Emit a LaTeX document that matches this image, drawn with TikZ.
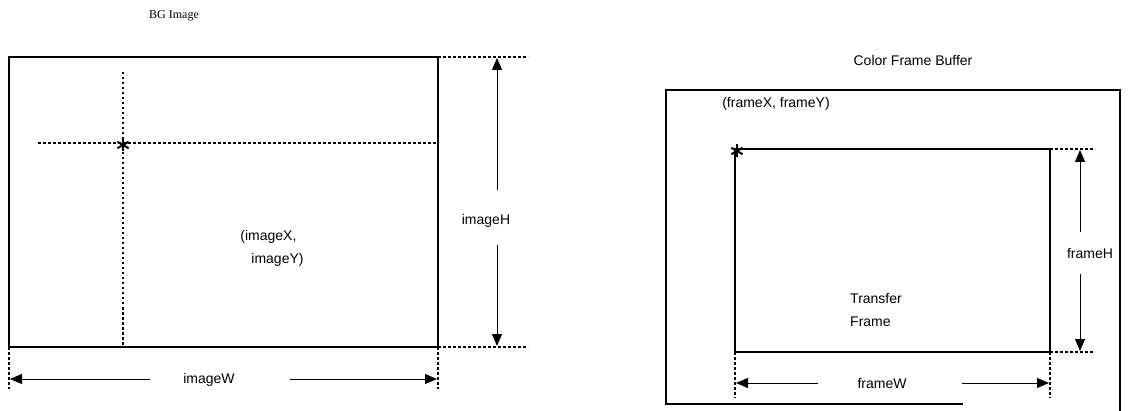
\documentclass[tikz,border=0pt]{standalone}
\usepackage{fontspec}
\setmainfont{Liberation Sans}
\newfontfamily\titlefont{Liberation Serif}
\usetikzlibrary{arrows.meta}
\tikzset{
  frameline/.style={line width=1.5pt},
  dotline/.style={line width=1.3pt, dash pattern=on 2.5pt off 2.5pt},
  dimarrow/.style={-{Triangle[length=12pt,width=10pt]}, line width=1pt},
  lbl/.style={font=\fontsize{14}{16}\selectfont, inner sep=0pt},
}
\newcommand{\starmark}[1]{%
  \foreach \a in {90,30,150}
    \draw[line width=2pt] (#1) ++(\a:6.5) -- ++(\a+180:13);
}

\begin{document}
\begin{tikzpicture}[x=1pt,y=-1pt]
\useasboundingbox (0,0) rectangle (1131,411);

%BG image side
\node[font=\titlefont\fontsize{12}{14}\selectfont] (bgtitle) at (174,16) {BG Image};
\coordinate (imgNW) at (9,57);
\coordinate (imgSE) at (438,347);
\coordinate (imgNE) at (438,57);
\coordinate (imgSW) at (9,347);
\draw[frameline] (imgNW) rectangle (imgSE);
%position lines
\coordinate (posV) at (123,72);
\coordinate (posVb) at (123,347);
\coordinate (posH) at (38,143);
\coordinate (posHb) at (438,143);
\draw[dotline] (posV) -- (posVb);
\draw[dotline] (posH) -- (posHb);
\coordinate (imgStar) at (123,145);
\starmark{imgStar}
\node[lbl, align=left] (imgpos) at (272,248) {(imageX,\\[7pt]\hspace*{11pt}imageY)};

%height
\coordinate (hTop) at (528,57);
\coordinate (hBot) at (528,347);
\draw[dotline] (imgNE) -- (hTop);
\draw[dotline] (imgSE) -- (hBot);
\node[lbl] (imgH) at (486,221) {imageH};
\coordinate (hUp) at (497,190);
\coordinate (hUpEnd) at (497,58);
\coordinate (hDn) at (497,245);
\coordinate (hDnEnd) at (497,346);
\draw[dimarrow] (hUp) -- (hUpEnd);
\draw[dimarrow] (hDn) -- (hDnEnd);

%width
\coordinate (wL) at (9,389);
\coordinate (wR) at (438,389);
\draw[dotline] (imgSW) -- (wL);
\draw[dotline] (imgSE) -- (wR);
\node[lbl] (imgW) at (209,380) {imageW};
\coordinate (wLa) at (150,379);
\coordinate (wLaEnd) at (10,379);
\coordinate (wRa) at (290,379);
\coordinate (wRaEnd) at (437,379);
\draw[dimarrow] (wLa) -- (wLaEnd);
\draw[dimarrow] (wRa) -- (wRaEnd);

%color frame buffer side
\node[lbl] (cfbtitle) at (913,60) {Color Frame Buffer};
\coordinate (bufNW) at (666,90);
\coordinate (bufNE) at (1120,90);
\coordinate (bufSE) at (1120,411);
\coordinate (bufSW) at (666,404);
\coordinate (bufS) at (963,404);
\draw[frameline] (bufS) -- (bufSW) -- (bufNW) -- (bufNE) -- (bufSE);

\coordinate (frNW) at (735,149);
\coordinate (frSE) at (1050,352);
\coordinate (frNE) at (1050,149);
\coordinate (frSW) at (735,352);
\draw[frameline] (frNW) rectangle (frSE);
\coordinate (frStar) at (737,151);
\starmark{frStar}
\node[lbl] (frpos) at (776,104) {(frameX, frameY)};
\node[lbl, align=left, anchor=west] (xfer) at (850,310) {Transfer\\[7pt]Frame};

%frame height
\coordinate (fhTop) at (1095,149);
\coordinate (fhBot) at (1095,352);
\draw[dotline] (frNE) -- (fhTop);
\draw[dotline] (frSE) -- (fhBot);
\node[lbl] (frH) at (1090,254) {frameH};
\coordinate (fhUp) at (1080,232);
\coordinate (fhUpEnd) at (1080,150);
\coordinate (fhDn) at (1080,274);
\coordinate (fhDnEnd) at (1080,351);
\draw[dimarrow] (fhUp) -- (fhUpEnd);
\draw[dimarrow] (fhDn) -- (fhDnEnd);

%frame width
\coordinate (fwL) at (735,398);
\coordinate (fwR) at (1050,398);
\draw[dotline] (frSW) -- (fwL);
\draw[dotline] (frSE) -- (fwR);
\node[lbl] (frW) at (882,384) {frameW};
\coordinate (fwLa) at (818,383);
\coordinate (fwLaEnd) at (736,383);
\coordinate (fwRa) at (962,383);
\coordinate (fwRaEnd) at (1049,383);
\draw[dimarrow] (fwLa) -- (fwLaEnd);
\draw[dimarrow] (fwRa) -- (fwRaEnd);
\end{tikzpicture}
\end{document}
